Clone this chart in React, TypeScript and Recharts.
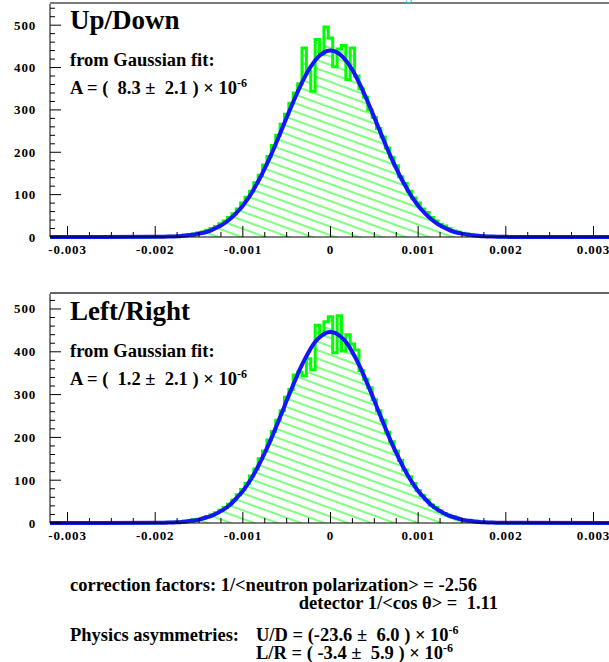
import React from "react";
import { ComposedChart, Area, Line, XAxis, YAxis } from "recharts";

// histogram bins: 81 bins, centre -0.002 .. +0.002, width 0.00005
const BIN_LO = -0.002;
const BIN_STEP = 0.00005;
const X_MIN = -0.0032;
const X_MAX = 0.0032;

const CHART_W = 611;
const Y_AXIS_W = 50;
const TOP_MARGIN = 4;

const upDownCounts = [
  0, 0, 1, 1, 2, 2, 3, 5, 6, 7, 10, 12, 16, 20, 25, 31, 38, 46, 55, 66,
  80, 94, 108, 128, 146, 170, 190, 216, 240, 266, 290, 316, 340, 362, 446, 392, 344, 466, 430, 496,
  470,
  402, 444, 452, 372, 446, 380, 350, 330, 300, 282, 256, 236, 210, 188, 168, 142, 126, 108, 92, 80,
  66, 58, 46, 38, 30, 26, 20, 14, 12, 9, 7, 5, 4, 3, 2, 1, 1, 1, 0, 0,
];

const upDownFit = [
  0.3, 0.4, 0.6, 0.9, 1.3, 1.9, 2.6, 3.5, 5, 6, 8, 10, 13, 17, 22, 27, 34, 42, 51, 62,
  74, 88, 104, 122, 141, 162, 184, 207, 232, 257, 282, 307, 331, 354, 375, 394, 410, 423, 432, 438,
  440,
  438, 432, 423, 410, 394, 375, 354, 331, 307, 282, 257, 232, 207, 184, 162, 141, 122, 104, 88, 74,
  62, 51, 42, 34, 27, 22, 17, 13, 10, 8, 6, 5, 3.5, 2.6, 1.9, 1.3, 0.9, 0.6, 0.4, 0.3,
];

const leftRightCounts = [
  0, 1, 0, 1, 2, 1, 3, 4, 5, 8, 9, 11, 15, 19, 24, 30, 36, 44, 54, 66,
  78, 92, 110, 126, 150, 168, 194, 214, 240, 262, 294, 312, 346, 352, 344, 384, 358, 462, 440, 470,
  482,
  398, 484, 402, 440, 418, 404, 356, 336, 316, 288, 262, 240, 212, 190, 168, 146, 124, 108, 92, 76,
  64, 54, 42, 36, 28, 22, 18, 14, 10, 8, 6, 4, 4, 2, 2, 1, 1, 0, 1, 0,
];

const leftRightFit = [
  0.3, 0.4, 0.6, 0.9, 1.3, 1.9, 2.6, 3.5, 5, 6, 8, 11, 14, 17, 22, 28, 34, 42, 52, 63,
  75, 89, 105, 123, 143, 164, 186, 210, 235, 260, 286, 311, 335, 359, 380, 399, 416, 429, 438, 444,
  446,
  444, 438, 429, 416, 399, 380, 359, 335, 311, 286, 260, 235, 210, 186, 164, 143, 123, 105, 89, 75,
  63, 52, 42, 34, 28, 22, 17, 14, 11, 8, 6, 5, 3.5, 2.6, 1.9, 1.3, 0.9, 0.6, 0.4, 0.3,
];

const xMajor = [-0.003, -0.002, -0.001, 0, 0.001, 0.002, 0.003];
const xMinor = [
  -0.00275, -0.0025, -0.00225, -0.00175, -0.0015, -0.00125, -0.00075, -0.0005, -0.00025,
  0.00025, 0.0005, 0.00075, 0.00125, 0.0015, 0.00175, 0.00225, 0.0025, 0.00275,
];
const yMajor = [0, 100, 200, 300, 400, 500];
const yMinor = [
  20, 40, 60, 80, 120, 140, 160, 180, 220, 240, 260, 280, 320, 340, 360, 380,
  420, 440, 460, 480, 520, 540,
];

const FONT = "'Liberation Serif', 'Times New Roman', serif";
const GREEN = "#00ff00";
const BLUE = "#1414ff";

const PANEL1_TOP = 0;
const PANEL2_TOP = 290;

function buildRows(counts: number[], fit: number[]) {
  const rows = counts.map((c, i) => ({ x: BIN_LO + i * BIN_STEP, h: c, fit: fit[i] }));
  return [{ x: X_MIN, h: 0, fit: 0 }, ...rows, { x: X_MAX, h: 0, fit: 0 }];
}

function xLabel(v: number) {
  return v === 0 ? "0" : v.toFixed(3);
}

const XTick = (props: any) => {
  const { x, y, payload } = props;
  const major = xMajor.includes(payload.value);
  return (
    <g>
      <line x1={x} x2={x} y1={y} y2={y - (major ? 11 : 5)} stroke="#000" />
      {major && (
        <text
          x={x}
          y={y + 17}
          textAnchor="middle"
          fontFamily={FONT}
          fontWeight="bold"
          fontSize={13}
          letterSpacing={0.8}
          fill="#000"
        >
          {xLabel(payload.value)}
        </text>
      )}
    </g>
  );
};

const YTick = (props: any) => {
  const { x, y, payload } = props;
  const major = yMajor.includes(payload.value);
  return (
    <g>
      <line x1={x} x2={x + (major ? 11 : 5)} y1={y} y2={y} stroke="#000" />
      {major && (
        <text
          x={x - 14}
          y={y + 4.5}
          textAnchor="end"
          fontFamily={FONT}
          fontWeight="bold"
          fontSize={13}
          letterSpacing={0.8}
          fill="#000"
        >
          {payload.value}
        </text>
      )}
    </g>
  );
};

function Panel({
  id,
  counts,
  fit,
  yMax,
  height,
}: {
  id: string;
  counts: number[];
  fit: number[];
  yMax: number;
  height: number;
}) {
  const rows = buildRows(counts, fit);
  const xTicks = [...xMajor, ...xMinor].sort((a, b) => a - b);
  const yTicks = [...yMajor, ...yMinor].filter((v) => v <= yMax).sort((a, b) => a - b);
  return (
    <ComposedChart
      width={CHART_W}
      height={height}
      data={rows}
      margin={{ top: TOP_MARGIN, right: 0, bottom: 0, left: 0 }}
    >
      <defs>
        <pattern
          id={id}
          patternUnits="userSpaceOnUse"
          width={8}
          height={8}
          patternTransform="rotate(20)"
        >
          <line x1={0} y1={4} x2={8} y2={4} stroke={GREEN} strokeWidth={1} />
        </pattern>
      </defs>
      <XAxis
        type="number"
        dataKey="x"
        domain={[X_MIN, X_MAX]}
        ticks={xTicks}
        interval={0}
        tick={XTick}
        tickLine={false}
        tickSize={0}
        tickMargin={0}
        height={30}
        axisLine={{ stroke: "#000" }}
      />
      <YAxis
        type="number"
        domain={[0, yMax]}
        ticks={yTicks}
        interval={0}
        tick={YTick}
        tickLine={false}
        tickSize={0}
        tickMargin={0}
        width={Y_AXIS_W}
        axisLine={{ stroke: "#000" }}
      />
      <Area
        type="step"
        dataKey="h"
        stroke={GREEN}
        strokeWidth={3}
        fill={`url(#${id})`}
        fillOpacity={1}
        isAnimationActive={false}
      />
      <Line
        type="monotone"
        dataKey="fit"
        stroke={BLUE}
        strokeWidth={4}
        dot={false}
        isAnimationActive={false}
      />
    </ComposedChart>
  );
}

const textStyle = {
  fontFamily: FONT,
  fontWeight: "bold" as const,
  fill: "#000",
};

function FitBox({ top, title, a, err }: { top: number; title: string; a: string; err: string }) {
  return (
    <g>
      <text x={70} y={top} fontSize={27} {...textStyle}>
        {title}
      </text>
      <text x={70} y={top + 37} fontSize={18.5} {...textStyle}>
        from Gaussian fit:
      </text>
      <text x={70} y={top + 65} fontSize={18.5} {...textStyle}>
        {`A = (\u00a0\u00a0${a} \u00b1\u00a0\u00a0${err} ) \u00d7 10`}
        <tspan dy={-7} fontSize={12}>
          -6
        </tspan>
      </text>
    </g>
  );
}

export default function App() {
  return (
    <div
      style={{
        position: "absolute",
        left: 0,
        top: 0,
        width: 609,
        height: 662,
        overflow: "hidden",
        background: "#fff",
      }}
    >
      <div style={{ position: "absolute", left: 0, top: PANEL1_TOP }}>
        <Panel id="hatchUD" counts={upDownCounts} fit={upDownFit} yMax={550} height={267} />
      </div>
      <div style={{ position: "absolute", left: 0, top: PANEL2_TOP }}>
        <Panel id="hatchLR" counts={leftRightCounts} fit={leftRightFit} yMax={535} height={263} />
      </div>
      <svg
        width={609}
        height={662}
        style={{ position: "absolute", left: 0, top: 0, pointerEvents: "none" }}
      >
        {/* upper edges of the two frames */}
        <line
          x1={Y_AXIS_W}
          x2={CHART_W}
          y1={PANEL1_TOP + TOP_MARGIN - 1}
          y2={PANEL1_TOP + TOP_MARGIN - 1}
          stroke="#7a7a7a"
          strokeWidth={2}
        />
        <line
          x1={Y_AXIS_W}
          x2={CHART_W}
          y1={PANEL2_TOP + TOP_MARGIN - 1}
          y2={PANEL2_TOP + TOP_MARGIN - 1}
          stroke="#333"
          strokeWidth={1.5}
        />
        <text x={405} y={0} fontSize={14} fill="#00e0f0" fontFamily={FONT}>
          g
        </text>
        <FitBox top={29} title="Up/Down" a="8.3" err="2.1" />
        <FitBox top={320} title="Left/Right" a="1.2" err="2.1" />
        <text x={70} y={591} fontSize={18.5} {...textStyle}>
          {"correction factors: 1/<neutron polarization> = -2.56"}
        </text>
        <text x={498} y={609} fontSize={18.5} textAnchor="end" {...textStyle}>
          {"detector 1/<cos \u03b8> =\u00a0\u00a01.11"}
        </text>
        <text x={70} y={641} fontSize={18.5} {...textStyle}>
          Physics asymmetries:
        </text>
        <text x={256} y={641} fontSize={18.5} {...textStyle}>
          {"U/D = (-23.6 \u00b1\u00a0\u00a06.0 ) \u00d7 10"}
          <tspan dy={-7} fontSize={12}>
            -6
          </tspan>
        </text>
        <text x={256} y={659} fontSize={18.5} {...textStyle}>
          {"L/R = (\u00a0-3.4 \u00b1\u00a0\u00a05.9 ) \u00d7 10"}
          <tspan dy={-7} fontSize={12}>
            -6
          </tspan>
        </text>
      </svg>
    </div>
  );
}
